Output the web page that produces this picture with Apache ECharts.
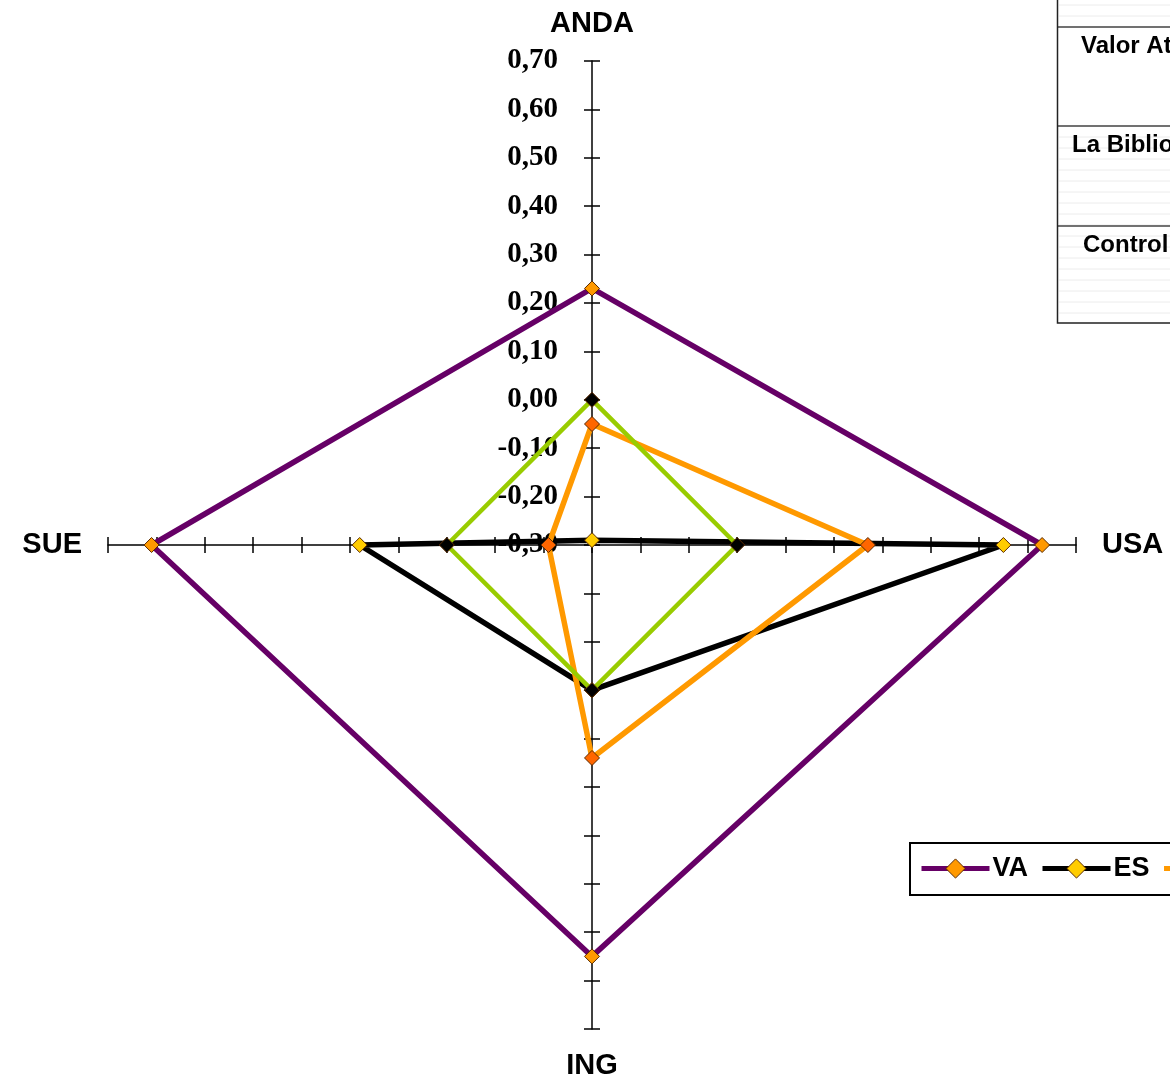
<!DOCTYPE html>
<html>
<head>
<meta charset="utf-8">
<script src="https://cdn.jsdelivr.net/npm/echarts@6/dist/echarts.min.js"></script>
<style>
html,body{margin:0;padding:0;background:#fff;}
#chart{width:1170px;height:1080px;}
</style>
</head>
<body>
<div id="chart"></div>
<script>
// Axes (indicators), counter-clockwise from top as ECharts places them
const indicatorNames = ['ANDA', 'SUE', 'ING', 'USA'];
const axisMin = -0.3;
const axisMax = 0.7;
// Series values in indicator order [ANDA, SUE, ING, USA]
const seriesNames = ['VA', 'ES', 'LB', 'CO'];
const valuesVA = [0.23, 0.61, 0.55, 0.63];
const valuesES = [-0.29, 0.18, 0.00, 0.55];
const valuesLB = [-0.05, -0.21, 0.14, 0.27];
const valuesCO = [0.00, 0.00, 0.00, 0.00];
// Table row labels (top right, cut off)
const tableRows = ['Valor Atribuido', 'La Biblioteca', 'Control'];

const lineColors = ['#660066', '#000000', '#FF9900', '#99CC00'];
const markerColors = ['#FF9900', '#FFCC00', '#FF6600', '#000000'];
const lineWidths = [5.5, 5.5, 5.5, 4.5];
const allValues = [valuesVA, valuesES, valuesLB, valuesCO];

const chart = echarts.init(document.getElementById('chart'));

const fmt = v => (Math.round(v * 100) / 100).toFixed(2).replace('.', ',');

const nameGaps = [23, 26, 22, 26];
const indicators = indicatorNames.map((n, i) => {
  const o = { name: n, min: axisMin, max: axisMax, nameGap: nameGaps[i] };
  if (i === 0) o.axisLabel = { show: true };
  return o;
});
const indicators2 = indicatorNames.map(n => ({ name: n, min: axisMin, max: axisMax }));

const center = [592, 545];
const radius = 484;

// table graphic
const tableGraphic = [];
for (let y = 5; y < 323; y += 11) {
  if (y > 27 && y < 126) continue;
  tableGraphic.push({ type: 'line', shape: { x1: 1059, y1: y, x2: 1170, y2: y }, style: { stroke: '#ececec', lineWidth: 1 }, silent: true });
}
[27, 126, 226].forEach(y => tableGraphic.push({ type: 'line', shape: { x1: 1057, y1: y, x2: 1170, y2: y }, style: { stroke: '#444', lineWidth: 1.5 } }));
tableGraphic.push({ type: 'rect', shape: { x: 1057.5, y: -2, width: 130, height: 325 }, style: { fill: 'none', stroke: '#222', lineWidth: 1.5 } });
const textX = [1081, 1072, 1083];
const textY = [46, 145, 245];
tableRows.forEach((t, i) => tableGraphic.push({
  type: 'text', x: textX[i], y: textY[i],
  style: { text: t, font: 'bold 24px "Liberation Sans", Arial, sans-serif', fill: '#000', verticalAlign: 'middle', align: 'left' }
}));

const radarSeries = seriesNames.map((n, i) => ({
  name: n,
  type: 'radar',
  radarIndex: 0,
  symbol: 'diamond',
  symbolSize: 15,
  z: 10 + i,
  lineStyle: { color: lineColors[i], width: lineWidths[i] },
  itemStyle: { color: markerColors[i], borderColor: '#5a2a00', borderWidth: 1 },
  data: [{ value: allValues[i], name: n }]
}));

const legendSeries = seriesNames.map((n, i) => ({
  name: n,
  type: 'line',
  xAxisIndex: 0,
  yAxisIndex: 0,
  symbol: 'diamond',
  symbolSize: 16,
  lineStyle: { color: lineColors[i], width: lineWidths[i] },
  itemStyle: { color: markerColors[i], borderColor: '#5a2a00', borderWidth: 1 },
  data: []
}));

chart.setOption({
  backgroundColor: '#ffffff',
  animation: false,
  grid: { left: 0, top: 0, width: 1, height: 1, show: false },
  xAxis: { type: 'value', show: false },
  yAxis: { type: 'value', show: false },
  legend: {
    data: seriesNames,
    left: 910,
    top: 843,
    width: 700,
    orient: 'horizontal',
    itemWidth: 68,
    itemHeight: 24,
    itemGap: 12,
    padding: [12, 10, 13, 9],
    borderColor: '#000',
    borderWidth: 2,
    selectedMode: false,
    lineStyle: { width: 5 },
    itemStyle: { borderWidth: 1, borderColor: '#5a2a00' },
    textStyle: { fontSize: 27, fontWeight: 'bold', fontFamily: '"Liberation Sans", Arial, sans-serif', color: '#000', padding: [0, 0, 0, -2] }
  },
  radar: [
    {
      center: center,
      radius: radius,
      startAngle: 90,
      shape: 'polygon',
      splitNumber: 10,
      indicator: indicators,
      axisName: { color: '#000', fontSize: 29, fontWeight: 'bold', fontFamily: '"Liberation Sans", Arial, sans-serif' },
      axisNameGap: 26,
      axisLine: { show: true, lineStyle: { color: '#000', width: 1.5 } },
      axisTick: { show: true, length: 8, lineStyle: { color: '#000', width: 1.5 } },
      axisLabel: { show: false, margin: 34, formatter: fmt, color: '#000', fontSize: 29, fontWeight: 'bold', fontFamily: '"Liberation Serif", "Times New Roman", serif' },
      splitLine: { show: false },
      splitArea: { show: false }
    },
    {
      center: center,
      radius: radius,
      startAngle: 90,
      shape: 'polygon',
      splitNumber: 10,
      indicator: indicators2,
      axisName: { show: false },
      axisLine: { show: false },
      axisTick: { show: true, length: -8, lineStyle: { color: '#000', width: 1.5 } },
      axisLabel: { show: false },
      splitLine: { show: false },
      splitArea: { show: false }
    }
  ],
  graphic: tableGraphic,
  series: legendSeries.concat(radarSeries)
});
</script>
</body>
</html>
